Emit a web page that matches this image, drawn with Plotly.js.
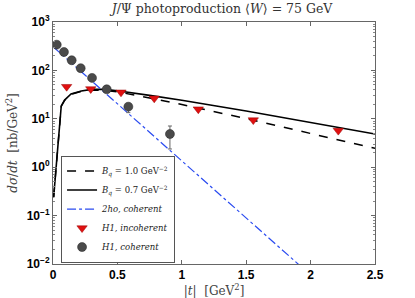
<!DOCTYPE html>
<html><head><meta charset="utf-8">
<script src="https://cdn.plot.ly/plotly-3.0.1.min.js"></script>
<style>html,body{margin:0;padding:0;background:#fff}#chart{width:415px;height:298px}</style>
</head><body><div id="chart"></div>
<script>
// Model curves
const tSolid = [0.005, 0.064, 0.09, 0.14, 0.22, 0.3, 0.4, 0.5, 0.75, 1.0, 1.5, 2.0, 2.5];
const bq07 = [0.24, 18.4, 24.4, 32.5, 37.5, 40.5, 40.5, 38, 30.5, 24.2, 14.5, 8.4, 4.85];
const tDash = [0.005, 0.064, 0.09, 0.14, 0.22, 0.3, 0.4, 0.5, 0.75, 1.0, 1.5, 2.0, 2.5];
const bq10 = [0.24, 18, 24, 32, 37, 39.5, 38.5, 36, 27, 19.7, 10.1, 5.0, 2.45];
const tHo = [0, 0.5, 1.0, 1.5, 2.0];
const ho2 = [309, 20.4, 1.35, 0.089, 0.0059];
// H1 data
const tInc = [0.106, 0.293, 0.528, 0.786, 1.128, 1.555, 2.215];
const h1Inc = [46, 41.3, 35.3, 26.5, 15.8, 9.4, 5.7];
const tCoh = [0.029, 0.085, 0.145, 0.215, 0.303, 0.417, 0.585, 0.908];
const h1Coh = [340, 240, 162, 111, 70, 40.7, 17.8, 4.85];
const h1CohErrPlus = [0, 0, 0, 0, 0, 0, 3.1, 2.25];
const h1CohErrMinus = [0, 0, 0, 0, 0, 0, 4.4, 2.47];
// Tick labels
const xTickVals = [0, 0.5, 1, 1.5, 2, 2.5];
const xTickText = ['0', '0.5', '1', '1.5', '2', '2.5'];
const yTickVals = [0.01, 0.1, 1, 10, 100, 1000];
const yTickText = ['10<sup>−2</sup>', '10<sup>−1</sup>', '10<sup>0</sup>', '10<sup>1</sup>', '10<sup>2</sup>', '10<sup>3</sup>'];

const serif = "DejaVu Serif, Liberation Serif, serif";
const traces = [
  {x: tDash, y: bq10, mode: 'lines', name: '<i>B<sub>q</sub></i> = 1.0 GeV<sup>−2</sup>',
   line: {color: '#000', width: 1.5, dash: 'dash'}},
  {x: tSolid, y: bq07, mode: 'lines', name: '<i>B<sub>q</sub></i> = 0.7 GeV<sup>−2</sup>',
   line: {color: '#000', width: 1.6}},
  {x: tHo, y: ho2, mode: 'lines', name: '<i>2ho, coherent</i>',
   line: {color: '#2a4bf0', width: 1.2, dash: 'dashdot'}},
  {x: tInc, y: h1Inc, mode: 'markers', name: '<i>H1, incoherent</i>',
   marker: {symbol: 'triangle-down', size: 9, color: '#e01010', line: {color: '#900', width: 0.5}}},
  {x: tCoh, y: h1Coh, mode: 'markers', name: '<i>H1, coherent</i>',
   error_y: {type: 'data', symmetric: false, array: h1CohErrPlus, arrayminus: h1CohErrMinus,
             color: '#666', thickness: 1, width: 2},
   marker: {symbol: 'circle', size: 9, color: '#4a4a4a', line: {color: '#222', width: 0.5}}}
];
const tickfont = {family: "Liberation Sans, Arial, sans-serif", size: 12, color: '#000', weight: 'bold'};
const layout = {
  width: 415, height: 298,
  margin: {l: 53, r: 40, t: 22, b: 34},
  paper_bgcolor: '#fff', plot_bgcolor: '#fff',
  title: {text: '<i>J</i>/Ψ photoproduction ⟨<i>W</i>⟩ = 75 GeV', font: {family: serif, size: 12.5, color: '#333'},
          x: 0.535, xanchor: 'center', y: 0.972, yanchor: 'middle'},
  xaxis: {range: [0, 2.5], tickvals: xTickVals, ticktext: xTickText,
          ticks: 'inside', ticklen: 4, tickcolor: '#666', showline: true, linecolor: '#666', linewidth: 1, mirror: 'ticks',
          showgrid: false, zeroline: false, tickfont: tickfont,
          title: {text: '|<i>t</i>|  [GeV<sup>2</sup>]', font: {family: serif, size: 12, color: '#444'}, standoff: 4}},
  yaxis: {type: 'log', range: [-2, 3], tickvals: yTickVals, ticktext: yTickText,
          ticks: 'inside', ticklen: 4, tickcolor: '#666', showline: true, linecolor: '#666', linewidth: 1, mirror: 'ticks',
          minor: {ticks: 'inside', ticklen: 2, tickcolor: '#888', dtick: 'D1', showgrid: false},
          showgrid: false, zeroline: false, tickfont: tickfont,
          title: {text: '<i>dσ</i>/<i>dt</i>  [nb/GeV<sup>2</sup>]', font: {family: serif, size: 12, color: '#444'}, standoff: 6}},
  showlegend: true,
  legend: {x: 0.025, y: 0.006, xanchor: 'left', yanchor: 'bottom', bgcolor: '#fff', bordercolor: '#555', borderwidth: 1,
           font: {family: serif, size: 8.5, color: '#222'}, tracegroupgap: 0, itemwidth: 30}
};
Plotly.newPlot('chart', traces, layout, {staticPlot: true});
</script></body></html>
